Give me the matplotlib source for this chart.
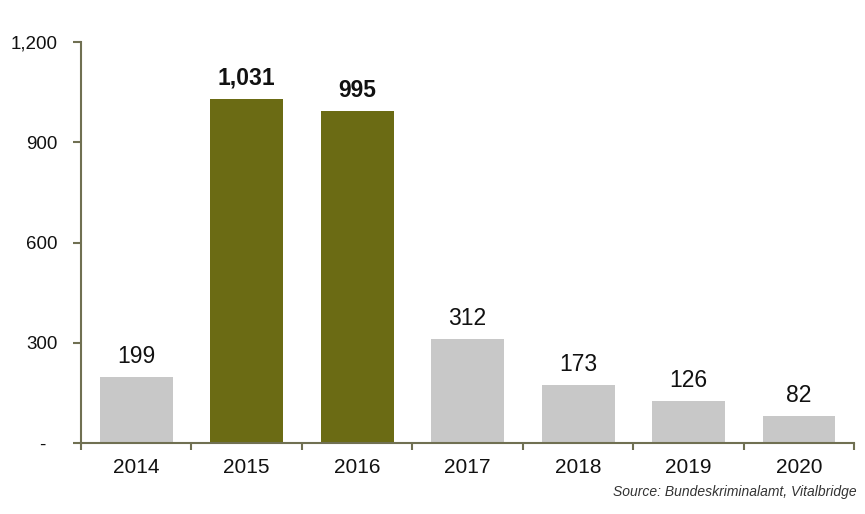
import matplotlib

matplotlib.use("Agg")

import matplotlib.pyplot as plt  # noqa: E402
from matplotlib.ticker import FuncFormatter  # noqa: E402

# données
years = ["2014", "2015", "2016", "2017", "2018", "2019", "2020"]
values = [199, 1031, 995, 312, 173, 126, 82]
highlight = [False, True, True, False, False, False, False]
y_ticks = [0, 300, 600, 900, 1200]

OLIVE = "#6b6b14"
GREY = "#c8c8c8"
SPINE = "#707052"

plt.rcParams["font.family"] = ["Liberation Sans", "DejaVu Sans"]

fig = plt.figure(figsize=(8.65, 5.14), dpi=100)
ax = fig.add_axes([0.0936, 0.138, 0.894, 0.780])

x = list(range(len(years)))
colors = [OLIVE if h else GREY for h in highlight]
bars = ax.bar(x, values, width=0.66, color=colors, zorder=2)

for bar, v, h in zip(bars, values, highlight):
    ax.annotate(
        f"{v:,}",
        (bar.get_x() + bar.get_width() / 2, v),
        xytext=(0, 6.5),
        textcoords="offset points",
        ha="center",
        va="bottom",
        fontsize=16.5,
        fontweight="bold" if h else "normal",
        color="#111111",
    )

ax.set_xlim(-0.5, len(years) - 0.5)
ax.set_ylim(0, 1200)
ax.set_yticks(y_ticks)
ax.yaxis.set_major_formatter(
    FuncFormatter(lambda v, _: "-  " if v == 0 else f"{int(v):,}")
)
ax.set_xticks(x)
ax.set_xticklabels(years)
ax.set_xticks([i - 0.5 for i in range(len(years) + 1)], minor=True)

for side in ("top", "right"):
    ax.spines[side].set_visible(False)
for side in ("left", "bottom"):
    ax.spines[side].set_color(SPINE)
    ax.spines[side].set_linewidth(1.5)

ax.tick_params(axis="y", direction="out", length=6, width=1.5, color=SPINE,
               pad=11, labelsize=13.5, labelcolor="#111111")
ax.tick_params(axis="x", which="major", length=0, pad=11, labelsize=15,
               labelcolor="#111111")
ax.tick_params(axis="x", which="minor", direction="out", length=5, width=1.5,
               color=SPINE)

fig.text(0.99, 0.03, "Source: Bundeskriminalamt, Vitalbridge", ha="right",
         va="bottom", fontsize=10, style="italic", color="#333333")

fig.savefig("out.png", dpi=100)
plt.close(fig)
